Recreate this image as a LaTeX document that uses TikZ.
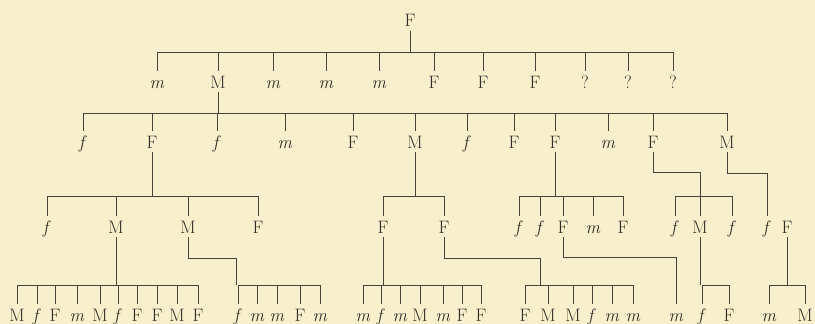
\documentclass[tikz,border=0pt]{standalone}
\usepackage{tikz}
\definecolor{paper}{RGB}{248,239,204}
\definecolor{ink}{RGB}{50,46,40}
\definecolor{rule}{RGB}{72,68,60}
\tikzset{kin/.style={anchor=base, inner xsep=0pt, inner ysep=4pt, text height=12.5pt, text depth=0pt,
      font=\fontsize{18}{21}\selectfont, text=ink}}
\tikzset{lin/.style={draw=rule, line width=1pt}}

\begin{document}
\begin{tikzpicture}[x=1pt,y=-1pt]
		\useasboundingbox[fill=paper] (0,0) rectangle (815,324);
		% generation 0
		\node[kin] (r) at (410,26.5) {F};
		% generation 1
		\foreach \n/\x/\t in {a1/157/\textit{m}, a2/218/M, a3/273/\textit{m}, a4/326/\textit{m}, a5/379/\textit{m},
		  a6/434/F, a7/483/F, a8/535/F, a9/585/?, a10/628/?, a11/673/?}
		  \node[kin] (\n) at (\x,88) {\t};
		% generation 2
		\foreach \n/\x/\t in {b1/83/\textit{f}, b2/152/F, b3/217/\textit{f}, b4/285/\textit{m}, b5/353/F, b6/415/M,
		  b7/467/\textit{f}, b8/514/F, b9/555/F, b10/608/\textit{m}, b11/653/F, b12/727/M}
		  \node[kin] (\n) at (\x,148) {\t};
		% generation 3
		\foreach \n/\x/\t in {c1/47/\textit{f}, c2/116/M, c3/188/M, c4/258/F, c5/383/F, c6/444/F,
		  c7/519/\textit{f}, c8/540/\textit{f}, c9/563/F, c10/593/\textit{m}, c11/623/F,
		  c12/675/\textit{f}, c13/700/M, c14/732/\textit{f}, c15/767/\textit{f}, c16/787/F}
		  \node[kin] (\n) at (\x,233) {\t};
		% generation 4
		\foreach \n/\x/\t in {d1/17/M, d2/37/\textit{f}, d3/55/F, d4/77/\textit{m}, d5/100/M, d6/118/\textit{f},
		  d7/137/F, d8/157/F, d9/177/M, d10/198/F,
		  d11/238/\textit{f}, d12/257/\textit{m}, d13/277/\textit{m}, d14/300/F, d15/320/\textit{m},
		  d16/363/\textit{m}, d17/381/\textit{f}, d18/400/\textit{m}, d19/420/M, d20/443/\textit{m}, d21/462/F, d22/481/F,
		  d23/525/F, d24/548/M, d25/573/M, d26/592/\textit{f}, d27/612/\textit{m}, d28/633/\textit{m},
		  d29/676/\textit{m}, d30/702/\textit{f}, d31/729/F, d32/769/\textit{m}, d33/805/M}
		  \node[kin] (\n) at (\x,321) {\t};
		% bar heights
		\coordinate (bar1) at (0,52);
		\coordinate (bar2) at (0,113);
		\coordinate (bar3) at (0,196);
		\coordinate (bar4) at (0,285);
		% F -> generation 1
		\draw[lin] (r.south) -- (r |- bar1);
		\draw[lin] (a1 |- bar1) -- (a11 |- bar1);
		\foreach \n in {a1,a2,a3,a4,a5,a6,a7,a8,a9,a10,a11} \draw[lin] (\n |- bar1) -- (\n.north);
		% M -> generation 2
		\draw[lin] (a2.south) -- (a2 |- bar2);
		\draw[lin] (b1 |- bar2) -- (b12 |- bar2);
		\foreach \n in {b1,b2,b3,b4,b5,b6,b7,b8,b9,b10,b11,b12} \draw[lin] (\n |- bar2) -- (\n.north);
		% generation 2 -> generation 3
		\draw[lin] (b2.south) -- (b2 |- bar3);
		\draw[lin] (c1 |- bar3) -- (c4 |- bar3);
		\draw[lin] (b6.south) -- (b6 |- bar3);
		\draw[lin] (c5 |- bar3) -- (c6 |- bar3);
		\draw[lin] (b9.south) -- (b9 |- bar3);
		\draw[lin] (c7 |- bar3) -- (c11 |- bar3);
		\draw[lin] (b11.south) |- (c13 |- 0,172) -- (c13 |- bar3);
		\draw[lin] (c12 |- bar3) -- (c14 |- bar3);
		\draw[lin] (b12.south) |- (c15 |- 0,173) -- (c15.north);
		\foreach \n in {c1,c2,c3,c4,c5,c6,c7,c8,c9,c10,c11,c12,c13,c14} \draw[lin] (\n |- bar3) -- (\n.north);
		% generation 3 -> generation 4
		\draw[lin] (c2.south) -- (c2 |- bar4);
		\draw[lin] (d1 |- bar4) -- (d10 |- bar4);
		\draw[lin] (c3.south) |- (236,258) -- (236,285);
		\draw[lin] (d11 |- bar4) -- (d15 |- bar4);
		\draw[lin] (c5.south) -- (c5 |- bar4);
		\draw[lin] (d16 |- bar4) -- (d22 |- bar4);
		\draw[lin] (c6.south) |- (540,258) -- (540,285);
		\draw[lin] (d23 |- bar4) -- (d28 |- bar4);
		\draw[lin] (c9.south) |- (d29 |- 0,257) -- (d29.north);
		\draw[lin] (c13.south) -- (c13 |- bar4);
		\draw[lin] (d30 |- bar4) -- (d31 |- bar4);
		\draw[lin] (c16.south) -- (c16 |- bar4);
		\draw[lin] (d32 |- bar4) -- (d33 |- bar4);
		\foreach \n in {d1,d2,d3,d4,d5,d6,d7,d8,d9,d10,d11,d12,d13,d14,d15,d16,d17,d18,d19,d20,d21,d22,
		  d23,d24,d25,d26,d27,d28,d30,d31,d32,d33} \draw[lin] (\n |- bar4) -- (\n.north);
\end{tikzpicture}
\end{document}
